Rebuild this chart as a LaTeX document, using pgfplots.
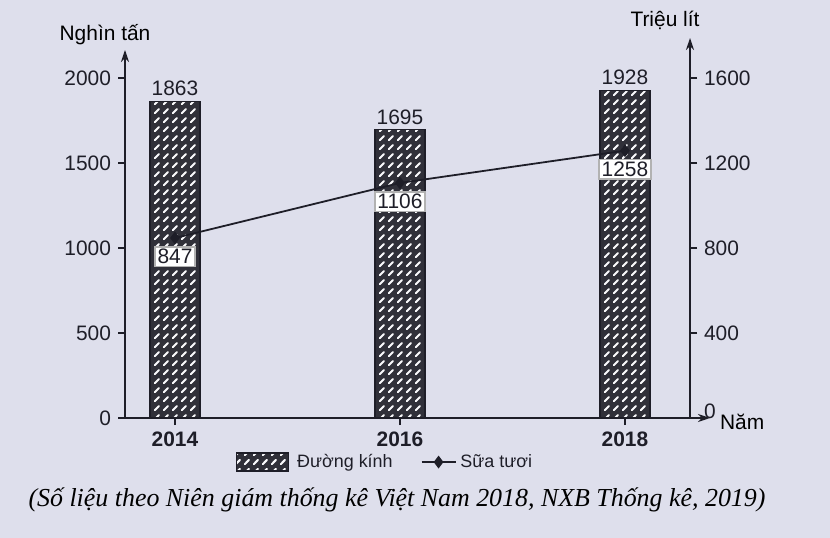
\documentclass[border=0pt]{standalone}
\usepackage{pgfplots}
\pgfplotsset{compat=1.18}
\usepackage{fontspec}
\setmainfont{Liberation Sans}
\newfontfamily\capfont{Liberation Serif}
\usetikzlibrary{patterns.meta,arrows.meta}
\definecolor{bg}{RGB}{222,223,236}
\definecolor{ink}{RGB}{30,30,40}

% short white diagonal strokes on the dark bars
\pgfdeclarepattern{
  name=slashes, type=uncolored,
  bottom left={\pgfpoint{0bp}{0bp}}, top right={\pgfpoint{4.5bp}{4.5bp}},
  tile size={\pgfpoint{4.5bp}{4.5bp}},
  code={
    \pgfsetlinewidth{1.1bp}
    \pgfsetroundcap
    \pgfpathmoveto{\pgfpoint{1bp}{1bp}}
    \pgfpathlineto{\pgfpoint{3.3bp}{3.3bp}}
    \pgfusepath{stroke}
  }
}
\newcommand{\fs}{\fontsize{10.5}{12.5}\selectfont}

\begin{document}
\begin{tikzpicture}
\fill[bg] (-62.5bp,-60bp) rectangle (352.5bp,209bp);
\useasboundingbox (-62.5bp,-60bp) rectangle (352.5bp,209bp);
\pgfplotsset{
  /pgf/number format/1000 sep={},
  /pgf/number format/assume math mode=true,
  every axis/.append style={font=\fs, text=ink},
}
% left axis: Duong kinh (nghin tan)
\begin{axis}[
  at={(0,0)}, anchor=south west,
  scale only axis, width=292.5bp, height=184bp,
  xmin=2013.556, xmax=2018.756,
  ymin=0, ymax=2165,
  axis x line=bottom, axis y line=left,
  axis line style={ink, line width=0.7pt, -{Stealth[length=6bp,width=4bp]}},
  tick align=outside, tick style={ink, line width=0.6pt},
  major tick length=3.5bp,
  ytick={0,500,1000,1500,2000},
  xtick={2014,2016,2018},
  xticklabels={\textbf{2014},\textbf{2016},\textbf{2018}},
  ybar, bar width=25bp,
  nodes near coords,
  every node near coord/.append style={font=\fs, text=ink, yshift=-1bp},
]
\addplot[draw=ink, line width=0.6pt, fill=ink!92,
  postaction={pattern=slashes, pattern color=white!85!bg}]
  coordinates {(2014,1863) (2016,1695) (2018,1928)};
\end{axis}
% right axis: Sua tuoi (trieu lit)
\begin{axis}[
  at={(0,0)}, anchor=south west,
  scale only axis, width=282.5bp, height=190bp,
  xmin=2013.556, xmax=2018.578,
  ymin=0, ymax=1788,
  axis x line=none, axis y line*=right,
  axis line style={ink, line width=0.7pt, -{Stealth[length=6bp,width=4bp]}},
  tick align=outside, tick style={ink, line width=0.6pt},
  major tick length=3.5bp,
  ytick={0,400,800,1200,1600},
  yticklabels={\raisebox{7bp}{0},400,800,1200,1600},
  legend style={at={(0.462,-0.116)}, anchor=center, draw=none, fill=none,
    legend columns=2, font=\fontsize{9}{11}\selectfont,
    /tikz/every even column/.append style={column sep=12bp}},
  legend cell align=left,
]
\addlegendimage{legend image code/.code={
  \draw[draw=ink, line width=0.6pt, fill=ink!92,
    postaction={pattern=slashes, pattern color=white!85!bg}]
    (0bp,-4.5bp) rectangle (26bp,4.5bp);}}
\addlegendentry{\hspace{2bp}Đường kính}
\addplot[ink, line width=0.9pt, mark=diamond*, mark size=2.5pt,
  nodes near coords,
  every node near coord/.append style={anchor=north, yshift=-4bp,
    fill=white, draw=gray!60, inner sep=1.2pt, font=\fs, text=ink}]
  coordinates {(2014,847) (2016,1106) (2018,1258)};
\addlegendentry{Sữa tươi}
\end{axis}
\node at (-10bp,191.5bp) {\fs Nghìn tấn};
\node at (270bp,199bp) {\fs Triệu lít};
\node[anchor=west] at (294bp,-2bp) {\fs Năm};
\node at (136bp,-41bp) {\capfont\itshape\fontsize{13}{15}\selectfont (Số liệu theo Niên giám thống kê Việt Nam 2018, NXB Thống kê, 2019)};
\end{tikzpicture}
\end{document}
